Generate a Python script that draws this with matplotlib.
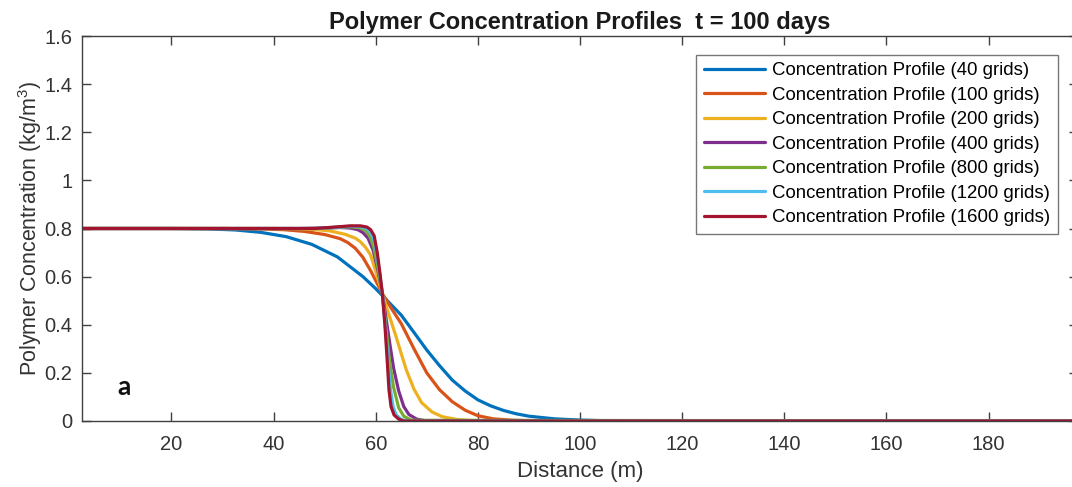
"""
Perfis de concentracao de polimero (t = 100 dias) para varias malhas.
Valores lidos do grafico original.
"""

import matplotlib
matplotlib.use("Agg")
import matplotlib.pyplot as plt
from matplotlib.ticker import FuncFormatter

plt.rcParams["font.family"] = ["Liberation Sans", "DejaVu Sans"]
plt.rcParams["mathtext.fontset"] = "custom"
plt.rcParams["mathtext.rm"] = "Liberation Sans"
plt.rcParams["mathtext.it"] = "Liberation Sans:italic"

# --- dados (distancia em m, concentracao em kg/m3) ---
x_40 = [2.5, 20, 27.5, 32.5, 37.5, 42.5, 47.5, 52.5, 57.5, 60, 62.5, 65, 67.5,
        70, 72.5, 75, 77.5, 80, 82.5, 85, 87.5, 90, 95, 100, 105, 110, 197.5]
c_40 = [0.800, 0.800, 0.798, 0.794, 0.784, 0.766, 0.734, 0.682, 0.600, 0.550,
        0.495, 0.440, 0.368, 0.295, 0.230, 0.170, 0.125, 0.088, 0.063, 0.044,
        0.030, 0.020, 0.009, 0.004, 0.001, 0.0, 0.0]

x_100 = [1, 30, 38, 42, 46, 50, 53, 54.5, 56, 57.5, 59, 61.3, 63, 65, 67.5,
         70, 72.5, 75, 77.5, 80, 83, 87, 92, 199]
c_100 = [0.800, 0.800, 0.798, 0.795, 0.788, 0.775, 0.758, 0.742, 0.718, 0.680,
         0.625, 0.530, 0.470, 0.405, 0.300, 0.200, 0.130, 0.080, 0.045, 0.022,
         0.009, 0.003, 0.0, 0.0]

x_200 = [0.5, 40, 44, 48, 51, 54, 56, 57, 58, 59, 60, 61.3, 62, 63, 64, 65,
         66, 67.5, 69, 71, 73, 76, 80, 199.5]
c_200 = [0.800, 0.800, 0.799, 0.796, 0.790, 0.776, 0.760, 0.745, 0.722, 0.690,
         0.622, 0.530, 0.480, 0.415, 0.350, 0.280, 0.212, 0.132, 0.076, 0.038,
         0.018, 0.006, 0.0, 0.0]

x_400 = [0.25, 45, 50, 53, 55, 56.5, 57.5, 58.5, 59.5, 60.5, 61.3, 62, 62.7,
         63.5, 64.5, 65.5, 66.5, 68, 70, 199.75]
c_400 = [0.800, 0.800, 0.802, 0.804, 0.802, 0.795, 0.783, 0.760, 0.710, 0.620,
         0.530, 0.430, 0.330, 0.220, 0.125, 0.060, 0.027, 0.008, 0.0, 0.0]

x_800 = [0.125, 48, 52, 55, 57, 58, 58.8, 59.6, 60.5, 61.3, 62, 62.7, 63.5,
         64.5, 65.5, 67, 199.875]
c_800 = [0.800, 0.800, 0.804, 0.807, 0.803, 0.792, 0.770, 0.725, 0.630, 0.530,
         0.390, 0.250, 0.140, 0.055, 0.020, 0.003, 0.0]

x_1200 = [0.083, 48, 52, 55, 57, 58.2, 59, 59.6, 60.2, 60.8, 61.3, 61.9, 62.4,
          62.9, 63.4, 64, 65, 66, 199.9]
c_1200 = [0.800, 0.800, 0.805, 0.809, 0.808, 0.800, 0.783, 0.755, 0.700, 0.610,
          0.530, 0.390, 0.250, 0.130, 0.060, 0.025, 0.007, 0.0, 0.0]

x_1600 = [0.0625, 48, 52, 55, 57, 58.3, 59, 59.7, 60.3, 60.8, 61.3, 61.8, 62.2,
          62.6, 63.0, 63.6, 64.5, 65.5, 199.94]
c_1600 = [0.800, 0.800, 0.806, 0.811, 0.811, 0.806, 0.795, 0.770, 0.700, 0.620,
          0.530, 0.400, 0.270, 0.130, 0.060, 0.025, 0.008, 0.0, 0.0]

series = [
    ("Concentration Profile (40 grids)", x_40, c_40, "#0072BD"),
    ("Concentration Profile (100 grids)", x_100, c_100, "#D95319"),
    ("Concentration Profile (200 grids)", x_200, c_200, "#EDB120"),
    ("Concentration Profile (400 grids)", x_400, c_400, "#7E2F8E"),
    ("Concentration Profile (800 grids)", x_800, c_800, "#77AC30"),
    ("Concentration Profile (1200 grids)", x_1200, c_1200, "#4DBEEE"),
    ("Concentration Profile (1600 grids)", x_1600, c_1600, "#A2142F"),
]

x_ticks = [20, 40, 60, 80, 100, 120, 140, 160, 180]
y_ticks = [0, 0.2, 0.4, 0.6, 0.8, 1.0, 1.2, 1.4, 1.6]

COR_EIXO = "#404040"

fig = plt.figure(figsize=(10.72, 4.87), dpi=100)
# eixo ligeiramente maior que a figura a direita (imagem original recortada)
ax = fig.add_axes([82 / 1072, 66 / 487, 996 / 1072, 385 / 487])

for rotulo, xs, cs, cor in series:
    ax.plot(xs, cs, color=cor, lw=2.3, label=rotulo, solid_capstyle="round",
            solid_joinstyle="round")

ax.set_xlim(2.5, 197.5)
ax.set_ylim(0, 1.6)
ax.set_xticks(x_ticks)
ax.set_yticks(y_ticks)
ax.yaxis.set_major_formatter(FuncFormatter(lambda v, _: f"{v:g}"))

for lado in ax.spines.values():
    lado.set_color(COR_EIXO)
    lado.set_linewidth(1.0)
ax.tick_params(direction="in", length=6.5, width=1.0, color=COR_EIXO,
               labelcolor="#333333", labelsize=14.5, top=True, right=True)
ax.tick_params(axis="x", pad=10)
ax.tick_params(axis="y", pad=7)

ax.set_xlabel("Distance (m)", fontsize=16, color="#333333", labelpad=5)
ax.set_ylabel("Polymer Concentration (kg/m$^3$)", fontsize=15.5,
              color="#333333", labelpad=0)
ax.set_title("Polymer Concentration Profiles  t = 100 days", fontsize=17,
             fontweight="bold", color="#1a1a1a", pad=5)

leg = ax.legend(loc="upper right", bbox_to_anchor=(1058 / 1072, 1 - 55 / 487),
                bbox_transform=fig.transFigure, borderaxespad=0, fontsize=13.4,
                frameon=True, fancybox=False, handlelength=3.3,
                handletextpad=0.4, labelspacing=0.4, borderpad=0.4)
leg.get_frame().set_edgecolor("#555555")
leg.get_frame().set_linewidth(1.0)

ax.text(0.036, 0.068, "a", transform=ax.transAxes, fontsize=19,
        fontweight="bold", family=["Lato", "DejaVu Sans"], color="#111111")

fig.savefig("out.png", dpi=100)
